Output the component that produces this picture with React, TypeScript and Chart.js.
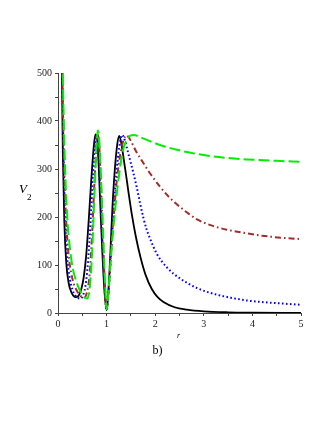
import React, { useEffect, useRef } from "react";
import { Chart, registerables } from "chart.js";

Chart.register(...registerables);

// r values and V2 values
const rBlack = [0.075, 0.08, 0.1, 0.13, 0.17, 0.22, 0.28, 0.34, 0.38, 0.43, 0.48, 0.53, 0.58, 0.63, 0.68, 0.73, 0.77, 0.8, 0.84, 0.88, 0.92, 0.96, 1.0, 1.04, 1.08, 1.12, 1.17, 1.22, 1.26, 1.3, 1.35, 1.4, 1.45, 1.52, 1.6, 1.7, 1.8, 1.93, 2.05, 2.17, 2.4, 2.65, 3.0, 3.5, 4.0, 5.0];
const vBlack = [560, 500, 330, 190, 105, 62, 42, 34, 33, 37, 50, 75, 120, 190, 270, 340, 372, 368, 300, 200, 110, 40, 6, 50, 130, 220, 300, 352, 369, 355, 322, 288, 252, 205, 160, 115, 80, 50, 33, 23, 12, 7, 3.5, 1.5, 0.8, 0.3];

const rBlue = [0.085, 0.09, 0.11, 0.14, 0.18, 0.23, 0.3, 0.38, 0.46, 0.52, 0.57, 0.62, 0.67, 0.72, 0.76, 0.79, 0.82, 0.86, 0.9, 0.94, 0.97, 1.0, 1.04, 1.09, 1.14, 1.2, 1.26, 1.32, 1.38, 1.44, 1.5, 1.56, 1.62, 1.69, 1.76, 1.82, 1.89, 2.03, 2.24, 2.51, 2.86, 3.2, 3.6, 3.89, 4.3, 4.58, 5.0];
const vBlue = [560, 500, 350, 220, 130, 80, 48, 34, 30, 38, 60, 110, 190, 290, 350, 370, 355, 280, 180, 90, 35, 6, 45, 120, 210, 290, 345, 371, 358, 335, 312, 288, 262, 228, 197, 175, 156, 124, 95, 72, 52, 40, 31, 26, 22, 20, 17];

const rBrown = [0.085, 0.09, 0.11, 0.14, 0.18, 0.23, 0.3, 0.38, 0.46, 0.54, 0.6, 0.65, 0.7, 0.74, 0.78, 0.81, 0.84, 0.88, 0.92, 0.96, 1.0, 1.05, 1.1, 1.16, 1.22, 1.28, 1.34, 1.41, 1.48, 1.6, 1.76, 1.9, 2.1, 2.3, 2.45, 2.7, 2.86, 3.2, 3.5, 3.89, 4.2, 4.58, 5.0];
const vBrown = [560, 500, 380, 260, 170, 110, 70, 48, 36, 32, 45, 80, 160, 250, 330, 372, 360, 280, 170, 70, 8, 60, 140, 220, 285, 330, 358, 370, 362, 338, 312, 290, 263, 240, 226, 206, 195, 181, 173, 166, 161, 157, 154];

const rGreen = [0.095, 0.1, 0.12, 0.15, 0.19, 0.24, 0.3, 0.38, 0.46, 0.54, 0.6, 0.65, 0.7, 0.74, 0.78, 0.82, 0.85, 0.89, 0.93, 0.97, 1.0, 1.05, 1.1, 1.18, 1.26, 1.34, 1.42, 1.5, 1.56, 1.7, 1.89, 2.1, 2.45, 2.93, 3.2, 3.89, 4.5, 5.0];
const vGreen = [560, 500, 400, 290, 200, 140, 95, 65, 45, 33, 30, 50, 120, 220, 320, 380, 360, 270, 160, 60, 8, 60, 130, 220, 290, 340, 362, 370, 371, 366, 358, 350, 340, 330, 326, 320, 317, 315];

const xTicks = [0, 1, 2, 3, 4, 5];
const yTicks = [0, 100, 200, 300, 400, 500];

const pts = (xs: number[], ys: number[]) => xs.map((x, i) => ({ x, y: ys[i] }));

const FONT = '"Liberation Serif", "DejaVu Serif", serif';

const labelPlugin = {
  id: "labels",
  afterDraw(chart: any) {
    const ctx = chart.ctx;
    const area = chart.chartArea;
    ctx.save();
    ctx.fillStyle = "#000";
    ctx.textBaseline = "alphabetic";
    ctx.textAlign = "left";
    const yMid = (area.top + area.bottom) / 2;
    ctx.font = `italic 13px ${FONT}`;
    ctx.fillText("V", 19, yMid + 0);
    ctx.font = `9px ${FONT}`;
    ctx.fillText("2", 27, yMid + 7);
    const xMid = (area.left + area.right) / 2;
    ctx.font = `italic 8px ${FONT}`;
    ctx.textAlign = "center";
    ctx.fillText("r", xMid - 1, area.bottom + 25);
    ctx.font = `12px ${FONT}`;
    ctx.fillText("b)", xMid - 22, area.bottom + 41);
    ctx.restore();
  },
};

export default function App() {
  const ref = useRef<HTMLCanvasElement | null>(null);
  useEffect(() => {
    if (!ref.current) return;
    const common = { pointRadius: 0, fill: false, cubicInterpolationMode: "monotone" as const };
    const chart = new Chart(ref.current, {
      type: "line",
      data: {
        datasets: [
          { ...common, data: pts(rBlack, vBlack), borderColor: "#000000", borderWidth: 1.8, order: 4 },
          { ...common, data: pts(rBlue, vBlue), borderColor: "#0000ff", borderWidth: 2, borderDash: [1.6, 2.4], order: 3 },
          { ...common, data: pts(rBrown, vBrown), borderColor: "#a52a2a", borderWidth: 2, borderDash: [6, 3, 1.6, 3], order: 2 },
          { ...common, data: pts(rGreen, vGreen), borderColor: "#00ee00", borderWidth: 2, borderDash: [11, 4], order: 1 },
        ],
      },
      options: {
        animation: false,
        responsive: false,
        devicePixelRatio: 1,
        layout: { padding: { left: 0, top: 73, right: 26, bottom: 90 } },
        plugins: { legend: { display: false }, tooltip: { enabled: false }, title: { display: false } },
        scales: {
          x: {
            type: "linear",
            min: 0,
            max: 5,
            afterFit: (s: any) => { s.height = 20; },
            afterBuildTicks: (s: any) => {
              const t: any[] = [];
              for (let i = 0; i <= 10; i++) t.push({ value: i * 0.5 });
              s.ticks = t;
            },
            ticks: {
              autoSkip: false,
              maxRotation: 0,
              padding: 2,
              color: "#222",
              font: { family: FONT, size: 10 },
              callback: (v: any) => (xTicks.includes(Number(v)) ? String(v) : ""),
            },
            grid: { drawOnChartArea: false, drawTicks: true, tickLength: 3, color: "#444" },
            border: { display: true, color: "#444", width: 1 },
          },
          y: {
            type: "linear",
            min: 0,
            max: 500,
            afterFit: (s: any) => { s.width = 58; },
            afterBuildTicks: (s: any) => {
              const t: any[] = [];
              for (let i = 0; i <= 10; i++) t.push({ value: i * 50 });
              s.ticks = t;
            },
            ticks: {
              autoSkip: false,
              padding: 3,
              color: "#222",
              font: { family: FONT, size: 10 },
              callback: (v: any) => (yTicks.includes(Number(v)) ? String(v) : ""),
            },
            grid: { drawOnChartArea: false, drawTicks: true, tickLength: 3, color: "#444" },
            border: { display: true, color: "#444", width: 1 },
          },
        },
      },
      plugins: [labelPlugin],
    });
    return () => chart.destroy();
  }, []);
  return (
    <div style={{ position: "fixed", left: 0, top: 0, width: 327, height: 423, background: "#fff" }}>
      <canvas ref={ref} width={327} height={423} />
    </div>
  );
}
